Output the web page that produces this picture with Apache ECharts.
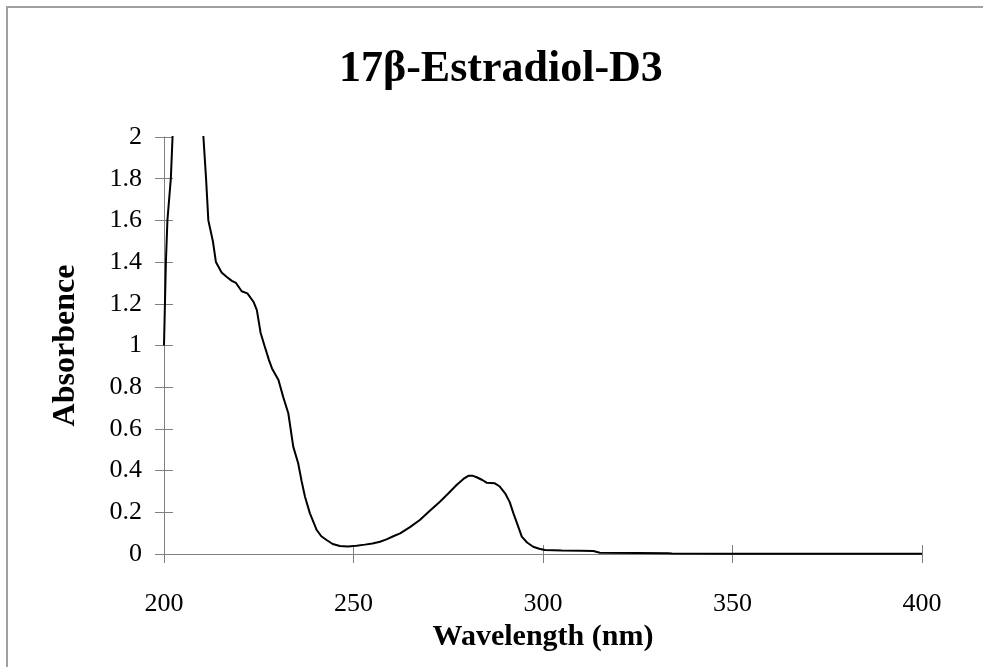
<!DOCTYPE html>
<html>
<head>
<meta charset="utf-8">
<script src="https://cdn.jsdelivr.net/npm/echarts@6/dist/echarts.min.js"></script>
<style>
  html, body {margin: 0; padding: 0; background: #fff}
  #chart {width: 983px; height: 667px}
</style>
</head>
<body>
<div id="chart"></div>
<script>
// spectrum (nm, absorbance)
const wavelength = [
  200, 200.5, 200.9, 201.8, 202.3, 206, 210.2, 210.4, 211.1, 211.7,
  212.9, 213.7, 215.2, 216.5, 217.9, 219, 220.5, 222, 223.6, 224.5,
  225.5, 226.5, 227.7, 228.5, 230.2, 231.5, 232.8, 234.1, 235.4, 236.3,
  237.2, 238.5, 240.3, 241.5, 242.9, 244.5, 246.4, 248.5, 250.8, 253,
  255, 257, 258.7, 260.5, 262.3, 265, 267.5, 270, 272.8, 275,
  277.2, 279, 280.3, 281.5, 282.5, 284, 285.1, 287.3, 288.5, 290,
  291.2, 292.2, 293.3, 294.4, 295.8, 297.4, 299, 300.5, 305, 310,
  313.3, 315, 325, 333, 334, 350, 370, 400
]
const absorbance = [
  1.00, 1.40, 1.60, 1.80, 2.02, 3.2, 2.05, 2.00, 1.80, 1.60,
  1.50, 1.40, 1.35, 1.33, 1.31, 1.30, 1.26, 1.25, 1.21, 1.17,
  1.06, 1.00, 0.93, 0.89, 0.835, 0.75, 0.675, 0.515, 0.435, 0.35,
  0.275, 0.195, 0.115, 0.085, 0.067, 0.048, 0.038, 0.036, 0.04, 0.045,
  0.05, 0.059, 0.07, 0.085, 0.099, 0.13, 0.163, 0.205, 0.251, 0.29,
  0.331, 0.36, 0.375, 0.375, 0.368, 0.355, 0.342, 0.339, 0.325, 0.291,
  0.25, 0.195, 0.14, 0.083, 0.055, 0.035, 0.025, 0.019, 0.017, 0.016,
  0.014, 0.006, 0.005, 0.004, 0.002, 0.001, 0.001, 0.001
]

const serif = 'Liberation Serif'
const axisGray = '#808080'

const chart = echarts.init(document.getElementById('chart'))

// two copies of each axis so the ticks cross the axis line
const xBase = {type: 'value', min: 200, max: 400, interval: 50, splitLine: {show: false}}
const yBase = {type: 'value', min: 0, max: 2, interval: 0.2, splitLine: {show: false}}

chart.setOption({
  backgroundColor: '#fff',
  animation: false,
  title: {
    text: '17β-Estradiol-D3',
    left: 334,
    top: 43,
    textStyle: {fontFamily: serif, fontWeight: 'bold', fontSize: 44, color: '#000'}
  },
  grid: {left: 164, right: 61, top: 137, bottom: 113},
  xAxis: [{
    ...xBase,
    name: 'Wavelength (nm)',
    nameLocation: 'middle',
    nameGap: 56,
    nameTextStyle: {fontFamily: serif, fontWeight: 'bold', fontSize: 30, color: '#000'},
    axisLine: {lineStyle: {color: axisGray, width: 1}},
    axisTick: {length: 9, lineStyle: {color: axisGray}},
    axisLabel: {margin: 37, fontFamily: serif, fontSize: 26, color: '#000'}
  }, {
    ...xBase,
    position: 'bottom',
    axisLine: {show: false},
    axisTick: {inside: true, length: 9, lineStyle: {color: axisGray}},
    axisLabel: {show: false}
  }],
  yAxis: [{
    ...yBase,
    name: 'Absorbence',
    nameLocation: 'middle',
    nameGap: 82,
    nameTextStyle: {fontFamily: serif, fontWeight: 'bold', fontSize: 32, color: '#000'},
    axisLine: {lineStyle: {color: axisGray, width: 1}},
    axisTick: {length: 9, lineStyle: {color: axisGray}},
    axisLabel: {margin: 22, fontFamily: serif, fontSize: 26, color: '#000'}
  }, {
    ...yBase,
    position: 'left',
    axisLine: {show: false},
    axisTick: {inside: true, length: 9, lineStyle: {color: axisGray}},
    axisLabel: {show: false}
  }],
  graphic: [
    {type: 'line', shape: {x1: 6, y1: 7, x2: 983, y2: 7}, style: {stroke: '#a0a0a0', lineWidth: 2}},
    {type: 'line', shape: {x1: 7, y1: 6, x2: 7, y2: 667}, style: {stroke: '#a0a0a0', lineWidth: 2}}
  ],
  series: [{
    type: 'line',
    xAxisIndex: 0,
    yAxisIndex: 0,
    data: wavelength.map((w, i) => [w, absorbance[i]]),
    showSymbol: false,
    clip: true,
    lineStyle: {color: '#000', width: 2}
  }]
})
</script>
</body>
</html>
